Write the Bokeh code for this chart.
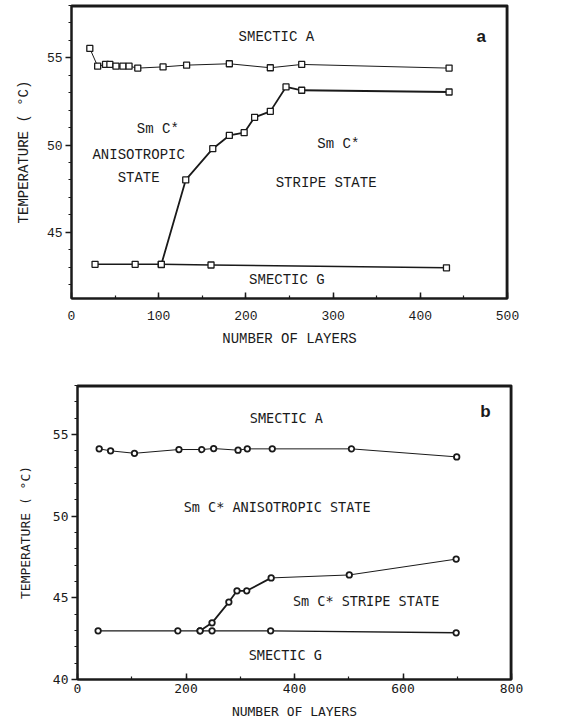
from bokeh.plotting import figure
from bokeh.models import Range1d, SingleIntervalTicker
from bokeh.core.properties import value
from bokeh.embed import file_html
from bokeh.resources import INLINE

# ---------------- data: panel a ----------------
a_sma_x = [21, 30, 39, 44, 51, 59, 66, 76, 105, 132, 181, 228, 264, 433]
a_sma_y = [55.54, 54.52, 54.62, 54.62, 54.52, 54.52, 54.52, 54.41, 54.48, 54.58, 54.66, 54.43, 54.62, 54.41]
a_stripe_x = [103, 131, 162, 181, 198, 210, 228, 246, 264, 433]
a_stripe_y = [43.15, 48.0, 49.79, 50.55, 50.71, 51.59, 51.93, 53.33, 53.14, 53.04]
a_smg_x = [27, 73, 103, 160, 430]
a_smg_y = [43.16, 43.16, 43.16, 43.12, 42.96]
a_labels = ["SMECTIC A", "Sm C*", "ANISOTROPIC", "STATE", "Sm C*", "STRIPE STATE", "SMECTIC G"]
a_label_x = [235, 99, 77, 77, 306, 292, 247]
a_label_y = [56.2, 50.94, 49.4, 48.1, 50.07, 47.8, 42.26]

# ---------------- data: panel b ----------------
b_sma_x = [40, 61, 105, 187, 229, 251, 296, 313, 359, 505, 699]
b_sma_y = [54.12, 54.0, 53.85, 54.08, 54.08, 54.14, 54.04, 54.12, 54.12, 54.12, 53.63]
b_smg_x = [38, 185, 226, 248, 356, 698]
b_smg_y = [42.98, 42.98, 42.98, 42.98, 42.98, 42.86]
b_stripe_x = [226, 248, 279, 294, 312, 357, 501, 698]
b_stripe_y = [42.98, 43.47, 44.74, 45.43, 45.43, 46.22, 46.4, 47.37]
b_labels = ["SMECTIC A", "Sm C* ANISOTROPIC STATE", "Sm C* STRIPE STATE", "SMECTIC G"]
b_label_x = [385, 368, 532, 383]
b_label_y = [56.0, 50.57, 44.78, 41.5]

INK = "#1a1a1a"


def style(p, font, xint, xminor, yint, yminor, tick_size, lab_size,
          x_std, x_lab_std, y_std, y_lab_std):
    p.outline_line_color = INK
    p.outline_line_width = 2
    p.outline_line_alpha = 1.0
    p.xgrid.visible = False
    p.ygrid.visible = False
    # right and top edges of the frame, also drawn as a line just inside the frame
    x0, x1 = p.x_range.start, p.x_range.end
    y0, y1 = p.y_range.start, p.y_range.end
    ex = (x1 - x0) * 0.002
    ey = (y1 - y0) * 0.003
    p.line(x=[x0, x1 - ex, x1 - ex], y=[y1 - ey, y1 - ey, y0],
           line_color=INK, line_width=2)
    p.xaxis.ticker = SingleIntervalTicker(interval=xint, num_minor_ticks=xminor)
    p.yaxis.ticker = SingleIntervalTicker(interval=yint, num_minor_ticks=yminor)
    for ax in (p.xaxis[0], p.yaxis[0]):
        ax.axis_line_color = INK
        ax.axis_line_width = 2
        ax.major_tick_line_color = INK
        ax.minor_tick_line_color = INK
        ax.major_tick_line_width = 1.5
        ax.minor_tick_line_width = 1.2
        ax.major_label_text_font = font
        ax.major_label_text_font_size = tick_size
        ax.major_label_text_color = INK
        ax.axis_label_text_font = font
        ax.axis_label_text_font_size = lab_size
        ax.axis_label_text_font_style = "normal"
        ax.axis_label_text_color = INK
    xa = p.xaxis[0]
    xa.major_tick_in = 6
    xa.major_tick_out = 0
    xa.minor_tick_in = 3
    xa.minor_tick_out = 0
    xa.major_label_standoff = x_std
    xa.axis_label_standoff = x_lab_std
    ya = p.yaxis[0]
    ya.major_tick_in = 0
    ya.major_tick_out = 6
    ya.minor_tick_in = 0
    ya.minor_tick_out = 3
    ya.major_label_standoff = y_std
    ya.axis_label_standoff = y_lab_std


# ---------------- panel a ----------------
FA = "Liberation Mono"
pa = figure(width=568, height=370, output_backend="svg", toolbar_location=None,
            x_range=Range1d(0, 500), y_range=Range1d(41.2, 58.0),
            x_axis_label="NUMBER OF LAYERS", y_axis_label="TEMPERATURE ( °C)",
            min_border_left=71, min_border_right=61, min_border_top=5, min_border_bottom=72)
style(pa, FA, 100, 2, 5, 5, "13px", "14px", 12, 8, 3, 12)

pa.line(a_sma_x, a_sma_y, line_color=INK, line_width=1)
pa.line(a_stripe_x, a_stripe_y, line_color=INK, line_width=1.8)
pa.line(a_smg_x, a_smg_y, line_color=INK, line_width=1.4)
for xs, ys in ((a_sma_x, a_sma_y), (a_stripe_x, a_stripe_y), (a_smg_x, a_smg_y)):
    pa.scatter(xs, ys, marker="square", size=6, fill_color="white",
               line_color=INK, line_width=1.3)
pa.text(a_label_x, a_label_y, text=a_labels, text_font=value(FA), text_font_size="14px",
        text_align="center", text_baseline="middle", text_color=INK)
pa.text([470], [56.2], text=["a"], text_font=value("Liberation Sans"), text_font_size="17px",
        text_font_style="bold", text_align="center", text_baseline="middle", text_color=INK)

# ---------------- panel b ----------------
FB = "DejaVu Sans Mono"
pb = figure(width=568, height=355, output_backend="svg", toolbar_location=None,
            x_range=Range1d(0, 800), y_range=Range1d(40, 58.0),
            x_axis_label="NUMBER OF LAYERS", y_axis_label="TEMPERATURE ( °C)",
            min_border_left=77, min_border_right=57, min_border_top=15, min_border_bottom=46)
style(pb, FB, 200, 2, 5, 5, "13px", "13px", 4, 8, 3, 17)

pb.line(b_sma_x, b_sma_y, line_color=INK, line_width=1)
pb.line(b_smg_x, b_smg_y, line_color=INK, line_width=1.4)
pb.line(b_stripe_x[:6], b_stripe_y[:6], line_color=INK, line_width=1.8)
pb.line(b_stripe_x[5:], b_stripe_y[5:], line_color=INK, line_width=1)
for xs, ys in ((b_sma_x, b_sma_y), (b_smg_x, b_smg_y), (b_stripe_x, b_stripe_y)):
    pb.scatter(xs, ys, marker="circle", size=5.5, fill_color="white",
               line_color=INK, line_width=1.8)
pb.text(b_label_x, b_label_y, text=b_labels, text_font=value(FB), text_font_size="13.5px",
        text_align="center", text_baseline="middle", text_color=INK)
pb.text([752], [56.4], text=["b"], text_font=value("Liberation Sans"), text_font_size="17px",
        text_font_style="bold", text_align="center", text_baseline="middle", text_color=INK)

open("out.html", "w").write(file_html([pa, pb], INLINE))
